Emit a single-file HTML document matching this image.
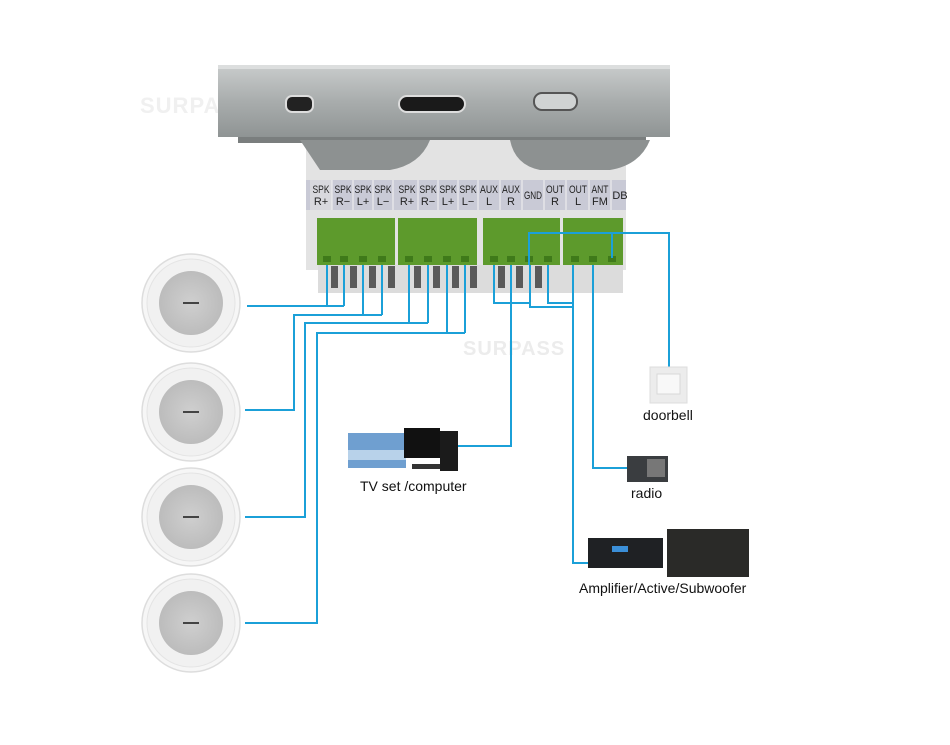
<!DOCTYPE html>
<html><head><style>
html,body{margin:0;padding:0;background:#fff}
svg{display:block}
text{font-family:"Liberation Sans",sans-serif}
</style></head><body>
<svg width="950" height="745" viewBox="0 0 950 745" xmlns="http://www.w3.org/2000/svg">
<defs>
<linearGradient id="plate" x1="0" y1="0" x2="0" y2="1">
<stop offset="0" stop-color="#c9cccc"/><stop offset="0.5" stop-color="#a9adad"/><stop offset="1" stop-color="#8f9494"/></linearGradient>
<radialGradient id="spk" cx="0.5" cy="0.5" r="0.5"><stop offset="0" stop-color="#cfcfcf"/><stop offset="1" stop-color="#bcbcbc"/></radialGradient>
</defs>
<text x="140" y="113" font-size="22" font-weight="bold" fill="#f0f0f0" letter-spacing="1">SURPASS</text>
<text x="463" y="355" font-size="20" font-weight="bold" fill="#ececec" letter-spacing="1">SURPASS</text>
<rect x="218" y="65" width="452" height="72" fill="url(#plate)"/>
<rect x="218" y="65" width="452" height="4" fill="#dcdede"/>
<rect x="238" y="137" width="408" height="6" fill="#7a7e7e"/>
<rect x="286" y="96" width="27" height="16" rx="6" fill="#222" stroke="#ddd" stroke-width="2"/>
<rect x="399" y="96" width="66" height="16" rx="8" fill="#1a1a1a" stroke="#ddd" stroke-width="2"/>
<rect x="534" y="93" width="43" height="17" rx="8" fill="#d0d3d3" stroke="#555" stroke-width="2"/>
<rect x="306" y="140" width="320" height="130" fill="#e3e3e3"/>
<path d="M300 140 h130 q-10 25 -40 30 h-70 z" fill="#8d9191"/>
<path d="M510 140 h140 q-10 25 -40 30 h-70 q-25 -5 -30 -30z" fill="#8d9191"/>
<rect x="306" y="180" width="320" height="30" fill="#c9cad6"/>
<rect x="310" y="180" width="22" height="30" fill="#d8d8dd"/>
<g stroke="#f2f2f2" stroke-width="1">
<path d="M332 180v30M353 180v30M373 180v30M393 180v30M418 180v30M438 180v30M458 180v30M478 180v30M500 180v30M522 180v30M544 180v30M566 180v30M589 180v30M611 180v30"/>
</g>
<g font-size="11" fill="#222" text-anchor="middle" lengthAdjust="spacingAndGlyphs">
<text x="321" y="193" textLength="17" lengthAdjust="spacingAndGlyphs">SPK</text><text x="321" y="205">R+</text>
<text x="343" y="193" textLength="17" lengthAdjust="spacingAndGlyphs">SPK</text><text x="343" y="205">R−</text>
<text x="363" y="193" textLength="17" lengthAdjust="spacingAndGlyphs">SPK</text><text x="363" y="205">L+</text>
<text x="383" y="193" textLength="17" lengthAdjust="spacingAndGlyphs">SPK</text><text x="383" y="205">L−</text>
<text x="407" y="193" textLength="17" lengthAdjust="spacingAndGlyphs">SPK</text><text x="407" y="205">R+</text>
<text x="428" y="193" textLength="17" lengthAdjust="spacingAndGlyphs">SPK</text><text x="428" y="205">R−</text>
<text x="448" y="193" textLength="17" lengthAdjust="spacingAndGlyphs">SPK</text><text x="448" y="205">L+</text>
<text x="468" y="193" textLength="17" lengthAdjust="spacingAndGlyphs">SPK</text><text x="468" y="205">L−</text>
<text x="489" y="193" textLength="18" lengthAdjust="spacingAndGlyphs">AUX</text><text x="489" y="205">L</text>
<text x="511" y="193" textLength="18" lengthAdjust="spacingAndGlyphs">AUX</text><text x="511" y="205">R</text>
<text x="533" y="199" textLength="18" lengthAdjust="spacingAndGlyphs">GND</text>
<text x="555" y="193" textLength="18" lengthAdjust="spacingAndGlyphs">OUT</text><text x="555" y="205">R</text>
<text x="578" y="193" textLength="18" lengthAdjust="spacingAndGlyphs">OUT</text><text x="578" y="205">L</text>
<text x="600" y="193" textLength="17" lengthAdjust="spacingAndGlyphs">ANT</text><text x="600" y="205">FM</text>
<text x="620" y="199">DB</text>
</g>
<rect x="318" y="265" width="305" height="28" fill="#dcdcdc"/>
<g fill="#5a5a5a">
<rect x="331" y="266" width="7" height="22"/><rect x="350" y="266" width="7" height="22"/><rect x="369" y="266" width="7" height="22"/><rect x="388" y="266" width="7" height="22"/>
<rect x="414" y="266" width="7" height="22"/><rect x="433" y="266" width="7" height="22"/><rect x="452" y="266" width="7" height="22"/><rect x="470" y="266" width="7" height="22"/>
<rect x="498" y="266" width="7" height="22"/><rect x="516" y="266" width="7" height="22"/><rect x="535" y="266" width="7" height="22"/>
</g>
<g fill="#5d9a2c">
<rect x="317" y="218" width="78" height="47"/><rect x="398" y="218" width="79" height="47"/>
<rect x="483" y="218" width="77" height="47"/><rect x="563" y="218" width="60" height="47"/>
</g>
<g fill="#3f7a1a">
<rect x="323" y="256" width="8" height="6"/><rect x="340" y="256" width="8" height="6"/><rect x="359" y="256" width="8" height="6"/><rect x="378" y="256" width="8" height="6"/>
<rect x="405" y="256" width="8" height="6"/><rect x="424" y="256" width="8" height="6"/><rect x="443" y="256" width="8" height="6"/><rect x="461" y="256" width="8" height="6"/>
<rect x="490" y="256" width="8" height="6"/><rect x="507" y="256" width="8" height="6"/><rect x="525" y="256" width="8" height="6"/><rect x="544" y="256" width="8" height="6"/>
<rect x="571" y="256" width="8" height="6"/><rect x="589" y="256" width="8" height="6"/><rect x="608" y="256" width="8" height="6"/>
</g>
<g fill="none" stroke="#1ba0d8" stroke-width="2">
<path d="M327 265V306M344 265V306M247 306H344"/>
<path d="M363 265V315M382 265V315M382 315H294V410H245"/>
<path d="M409 265V323M428 265V323M428 323H305V517H245"/>
<path d="M447 265V333M465 265V333M465 333H317V623H245"/>
<path d="M494 265V303H529"/>
<path d="M511 265V446H456"/>
<path d="M529 265V233H669V367M612 233V258"/>
<path d="M530 265V307H573"/>
<path d="M548 265V303H573"/>
<path d="M573 265V563H588"/>
<path d="M593 265V468H628"/>
</g>
<g>
<g transform="translate(191,303)"><circle r="49" fill="#f6f6f6" stroke="#ddd" stroke-width="1.5"/><circle r="44" fill="#f1f1f1" stroke="#e4e4e4"/><circle r="32" fill="url(#spk)"/><rect x="-8" y="-1" width="16" height="2" fill="#444"/></g>
<g transform="translate(191,412)"><circle r="49" fill="#f6f6f6" stroke="#ddd" stroke-width="1.5"/><circle r="44" fill="#f1f1f1" stroke="#e4e4e4"/><circle r="32" fill="url(#spk)"/><rect x="-8" y="-1" width="16" height="2" fill="#444"/></g>
<g transform="translate(191,517)"><circle r="49" fill="#f6f6f6" stroke="#ddd" stroke-width="1.5"/><circle r="44" fill="#f1f1f1" stroke="#e4e4e4"/><circle r="32" fill="url(#spk)"/><rect x="-8" y="-1" width="16" height="2" fill="#444"/></g>
<g transform="translate(191,623)"><circle r="49" fill="#f6f6f6" stroke="#ddd" stroke-width="1.5"/><circle r="44" fill="#f1f1f1" stroke="#e4e4e4"/><circle r="32" fill="url(#spk)"/><rect x="-8" y="-1" width="16" height="2" fill="#444"/></g>
</g>
<rect x="348" y="433" width="58" height="35" fill="#6f9fd0"/>
<rect x="348" y="450" width="58" height="10" fill="#b8d2ea"/>
<rect x="404" y="428" width="36" height="30" fill="#111"/>
<rect x="440" y="431" width="18" height="40" fill="#1b1b1b"/>
<rect x="412" y="464" width="28" height="5" fill="#333"/>
<text x="360" y="491" font-size="14" fill="#111">TV set /computer</text>
<rect x="650" y="367" width="37" height="36" fill="#ececec" stroke="#ddd"/>
<rect x="657" y="374" width="23" height="20" fill="#f8f8f8" stroke="#d8d8d8"/>
<text x="643" y="420" font-size="14" fill="#111">doorbell</text>
<rect x="627" y="456" width="41" height="26" fill="#3a3d40"/>
<rect x="647" y="459" width="18" height="18" fill="#777"/>
<text x="631" y="498" font-size="14" fill="#111">radio</text>
<rect x="588" y="538" width="75" height="30" fill="#1f2124"/>
<rect x="612" y="546" width="16" height="6" fill="#3b8fd8"/>
<rect x="667" y="529" width="82" height="48" fill="#2a2a28"/>
<text x="579" y="593" font-size="14" fill="#111">Amplifier/Active/Subwoofer</text>
</svg>
</body></html>
